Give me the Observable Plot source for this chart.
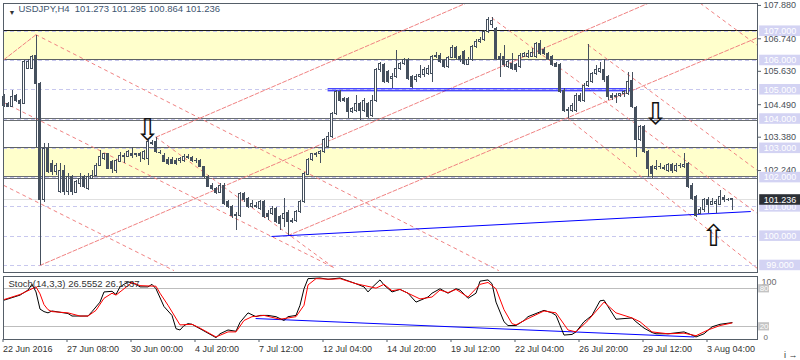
<!DOCTYPE html>
<html><head><meta charset="utf-8">
<script src="https://cdn.jsdelivr.net/npm/d3@7"></script>
<script src="https://cdn.jsdelivr.net/npm/@observablehq/plot@0.6"></script>
<style>
body{margin:0;background:#fff}
#chart{position:relative;width:800px;height:360px;overflow:hidden}
#chart svg{display:block}
</style>
</head><body><div id="chart"></div>
<script>
// ---------- DATA ----------
const titleText = "USDJPY,H4  101.273 101.295 100.864 101.236";
const stochTitle = "Stoch(14,3,3) 26.5552 26.1337";
const lastPrice = 101.236;

const opens = [104.75,104.52,104.40,104.78,104.63,104.52,105.71,105.71,106.17,105.20,
101.22,102.96,102.47,102.18,101.50,102.24,101.50,102.01,101.47,101.79,
102.01,101.62,101.96,102.07,102.41,102.64,102.79,102.53,102.24,102.53,
102.70,102.72,102.81,102.77,102.79,102.64,102.64,103.15,103.21,102.85,
102.75,102.61,102.61,102.58,102.56,102.58,102.72,102.67,102.55,102.56,
102.36,102.01,101.70,101.62,101.47,101.73,101.16,100.99,100.68,100.70,
101.44,101.27,100.99,101.03,100.93,101.16,100.76,100.76,100.93,100.65,
100.59,100.80,100.50,100.53,100.82,101.16,102.10,102.61,102.78,102.81,
102.87,103.04,103.38,104.18,104.92,104.69,104.67,104.23,104.29,104.52,
104.29,104.52,104.12,104.63,105.66,105.83,105.60,105.37,105.43,105.71,
105.88,106.00,105.43,105.32,105.43,105.49,105.54,105.54,106.11,106.17,
105.98,105.77,106.09,106.43,106.11,106.28,105.86,106.02,106.45,106.62,
106.70,106.97,107.20,107.08,106.11,106.11,105.79,105.88,105.83,105.77,
106.13,106.11,106.13,106.11,106.57,106.36,106.23,106.13,105.88,105.83,
104.97,104.27,104.29,104.29,104.80,104.63,105.14,105.26,105.54,105.60,
105.68,105.43,104.77,104.75,104.80,104.85,104.86,105.29,104.38,103.29,
103.74,102.87,102.36,102.30,102.35,102.33,102.22,102.43,102.24,102.38,
102.36,102.47,101.73,101.33,100.76,100.88,101.22,101.08,101.10,101.08,
101.31,101.25,101.273];
const highs = [104.83,104.58,104.97,104.83,104.67,106.00,106.02,106.17,106.87,105.26,
103.15,103.15,102.58,102.47,102.47,102.41,102.13,102.07,101.90,102.13,
102.07,102.13,102.24,102.47,102.92,102.83,102.83,102.58,102.61,102.87,
102.81,102.92,103.04,102.83,102.87,102.92,103.27,103.27,103.38,102.92,
102.81,102.70,102.67,102.64,102.70,102.79,102.79,102.72,102.64,102.61,
102.38,102.07,101.79,101.67,101.79,101.79,101.22,101.04,100.82,101.50,
101.50,101.33,101.22,101.16,101.22,101.22,100.88,101.01,100.99,100.70,
101.27,100.88,100.59,100.88,101.22,102.18,102.64,102.83,102.87,102.92,
103.33,103.55,104.23,104.97,104.97,104.75,104.72,104.40,104.80,104.58,
104.69,104.58,104.80,105.71,105.94,105.88,105.66,105.54,106.34,105.94,
106.06,106.06,105.49,105.52,105.83,105.77,105.83,106.17,106.28,106.23,
106.02,106.13,106.51,106.48,106.17,106.34,106.09,106.51,106.70,106.80,
107.02,107.48,107.48,107.14,106.25,106.51,106.00,106.23,105.88,106.23,
106.28,106.34,106.40,106.62,106.68,106.45,106.28,106.17,105.94,105.88,
105.03,104.40,104.52,104.86,104.86,105.20,106.53,105.60,105.83,105.94,
106.02,105.49,104.86,104.86,104.88,104.97,105.60,105.60,104.43,103.78,
103.78,102.92,102.41,102.58,102.47,102.41,102.47,102.49,102.47,102.47,
102.81,102.53,101.79,101.39,100.99,101.27,101.33,101.27,101.24,101.56,
101.39,101.30,101.295];
const lows = [104.40,104.38,104.38,104.58,104.01,104.50,105.68,105.68,103.04,99.00,
101.16,102.13,102.07,102.07,101.47,101.39,101.39,101.39,101.44,101.67,
101.62,101.56,101.93,102.04,102.38,102.58,102.27,102.13,102.13,102.50,
102.47,102.67,102.64,102.70,102.53,102.58,102.41,103.10,102.83,102.79,
102.50,102.41,102.45,102.41,102.47,102.53,102.61,102.53,102.47,102.33,
101.96,101.65,101.56,101.42,101.44,101.04,100.93,100.59,100.19,100.65,
101.16,100.93,100.93,100.93,100.88,100.59,100.53,100.70,100.42,100.19,
100.31,100.02,100.42,100.48,100.76,101.10,102.07,102.56,102.70,102.47,
102.81,102.98,103.33,104.12,104.58,104.58,104.01,104.18,104.23,103.95,
104.23,104.01,104.06,104.58,105.60,105.20,105.20,105.03,105.37,105.66,
105.83,105.32,105.03,105.26,105.37,105.43,105.49,105.26,106.06,105.88,
105.71,105.71,106.06,106.02,105.94,105.83,105.83,105.98,106.40,106.57,
106.66,106.91,107.10,106.00,105.43,105.77,105.71,105.66,105.60,105.71,
106.09,106.06,106.09,106.06,106.17,106.17,106.00,105.79,105.75,104.88,
104.23,104.01,104.23,104.23,104.58,104.58,105.09,105.20,105.49,105.54,
105.26,104.63,104.63,104.52,104.72,104.75,104.80,104.35,102.70,103.24,
102.81,102.01,101.96,102.24,102.27,102.24,102.18,102.15,102.18,102.30,
102.30,101.62,101.22,100.65,100.73,100.82,100.76,101.05,100.76,101.05,
101.16,101.18,100.864];
const closes = [104.46,104.40,104.75,104.61,104.52,105.94,105.94,106.13,105.20,101.22,
102.98,102.18,102.18,102.41,102.24,101.50,102.01,101.50,101.84,101.96,
101.67,102.01,102.07,102.41,102.70,102.79,102.30,102.30,102.58,102.75,
102.75,102.87,102.75,102.79,102.75,102.87,103.21,103.19,102.87,102.83,
102.53,102.47,102.47,102.45,102.64,102.72,102.66,102.58,102.58,102.36,
102.01,101.67,101.62,101.47,101.73,101.10,100.99,100.70,100.72,101.44,
101.22,100.99,101.10,101.01,101.16,100.65,100.65,100.93,100.48,100.42,
100.76,100.48,100.53,100.82,101.16,102.13,102.61,102.79,102.81,102.87,
103.27,103.38,104.18,104.92,104.63,104.63,104.23,104.35,104.52,104.29,
104.63,104.06,104.63,105.66,105.88,105.26,105.26,105.45,105.71,105.88,
106.00,105.37,105.09,105.45,105.52,105.68,105.71,106.11,106.17,105.94,
105.77,106.09,106.43,106.09,106.00,105.88,106.02,106.45,106.62,106.70,
106.97,107.39,107.36,106.06,106.00,105.83,105.94,105.71,105.66,106.17,
106.23,106.23,106.25,106.57,106.23,106.23,106.06,105.83,105.79,104.92,
104.29,104.31,104.46,104.80,104.63,105.14,105.26,105.54,105.66,105.71,
105.32,104.75,104.73,104.80,104.84,104.91,105.26,104.40,103.27,103.72,
102.87,102.30,102.13,102.36,102.37,102.30,102.43,102.24,102.41,102.40,
102.43,101.67,101.27,100.70,100.90,101.22,101.08,101.16,101.18,101.33,
101.24,101.22,101.236];

// stochastic %K and %D, read as [bar, value]
const stochK = [[0,62],[2,66],[4,70],[6,78],[7,87],[8,75],[9,48],[10,44],[11,42],[12,45],[16,41],[17,37],[21,37],[22,44],[24,59],[25,75],[27,76],[28,71],[29,83],[31,91],[33,87],[34,83],[36,83],[37,87],[38,80],[40,52],[42,38],[43,17],[44,15],[45,22],[46,25],[47,24],[49,17],[53,3],[54,9],[56,15],[58,13],[59,27],[61,42],[63,36],[64,38],[66,38],[68,36],[70,30],[71,36],[73,38],[74,54],[75,80],[76,96],[79,97],[81,95],[84,97],[88,88],[90,83],[91,75],[92,82],[94,94],[95,86],[97,75],[99,79],[101,73],[103,59],[106,67],[107,73],[109,80],[111,73],[113,80],[114,78],[116,65],[118,73],[119,92],[121,94],[122,88],[123,59],[125,28],[126,22],[128,22],[130,30],[131,36],[133,41],[135,46],[137,42],[138,38],[140,7],[142,8],[143,12],[145,28],[147,38],[149,61],[150,62],[151,52],[153,32],[155,33],[157,34],[158,28],[160,18],[162,11],[163,9],[166,9],[170,12],[172,7],[173,4],[175,9],[177,20],[179,24],[182,26.6]];
const stochD = [[0,63],[4,71],[7,80],[8,83],[9,72],[10,55],[11,47],[12,44],[16,42],[19,37],[21,37],[23,46],[25,65],[27,73],[28,70],[30,80],[32,90],[34,85],[38,84],[39,73],[41,54],[44,23],[47,24],[49,18],[53,4],[56,12],[58,12],[60,30],[62,36],[65,38],[69,32],[73,36],[75,54],[76,86],[78,96],[82,95],[84,96],[88,88],[93,81],[95,87],[97,77],[99,79],[102,70],[104,64],[107,67],[109,78],[111,74],[113,79],[116,67],[119,87],[121,90],[123,80],[125,47],[127,25],[128,23],[131,33],[135,45],[138,42],[141,15],[143,12],[146,30],[150,59],[153,42],[157,34],[159,28],[162,12],[166,9],[170,10],[173,6],[176,15],[179,22],[182,26.1]];

// time axis
const tickBars = [0,16,32,48,64,80,96,112,128,144,160,176];
const tickLabels = ["22 Jun 2016","27 Jun 08:00","30 Jun 00:00","4 Jul 20:00","7 Jul 12:00","12 Jul 04:00","14 Jul 20:00","19 Jul 12:00","22 Jul 04:00","26 Jul 20:00","29 Jul 12:00","3 Aug 04:00"];

// price axis (visible tick labels)
const priceTicks = [107.88,106.74,105.63,104.49,103.38,102.24];
const gridLevels = [107,106,105,104,103,102,101,100,99];
const zones = [[106,107],[102,103]];
const levelLines = [[107.02,"#1a1a1a"],[106.02,"#5d6166"],[104.01,"#6b6f74"],[103.95,"#6b6f74"],[103.03,"#5d6166"],[102.04,"#6b6f74"],[101.96,"#6b6f74"]];
const stochLevels = [80, 20];

// drawn lines: [id, bar1, price1, bar2, price2]
const ascLines = [["L1",0,106.03,8,106.88],["A",9,99.0,161,107.95],["B",38,103.38,115.4,107.95],["C",71,100.02,188.4,106.78]];
const descLines = [["D1",8,106.88,123.6,98.83],["D2",0,104.56,82.4,98.93],["D3",0,101.73,42.4,98.83],["D4",38,103.38,82.4,98.93],
  ["R1",122,107.45,188.4,100.77],["R2",146,106.53,188.4,102.24],["R3",141,104.01,188.4,98.89],["R5",174.1,107.95,188.4,106.51]];
const blueLines = [["h1",81,105.033,157,105.033],["h2",81,104.965,157,104.965],["tr",67,99.99,186.6,100.84]];
const stochBlue = [["s",63,33,172.5,4]];
const arrows = [[35.9,103.61,"down"],[162.9,104.16,"down"],[177.4,99.98,"up"]];

// ---------- DRAW ----------
const FONT = "'Liberation Sans', Arial, sans-serif";
const ink = "#45505e";
const frameC = "#555e68";
const red = "#f08282";
const X0 = -0.125, X1 = 188.375;

const candles = opens.map((o, i) => ({i, o, h: highs[i], l: lows[i], c: closes[i]}));
const seg = arr => arr.flatMap(([id, a, p, b, q]) => [{id, i: a, p}, {id, i: b, p: q}]);
const fmt3 = d3.format(".3f");

const main = Plot.plot({
  width: 800, height: 273,
  marginTop: 3, marginRight: 43, marginBottom: 1, marginLeft: 3,
  x: {domain: [X0, X1], axis: null},
  y: {domain: [98.759, 107.946], axis: null},
  color: {type: "identity"},
  style: {background: "#fff", fontFamily: FONT, overflow: "visible"},
  marks: [
    Plot.rect(zones, {x1: X0, x2: X1, y1: d => d[0], y2: d => d[1], fill: "#ffffcc"}),
    Plot.ruleY(gridLevels, {stroke: "#c8c8ee", strokeDasharray: "4,3", shapeRendering: "crispEdges"}),
    Plot.ruleY(levelLines, {y: d => d[0], stroke: d => d[1], shapeRendering: "crispEdges"}),
    Plot.ruleY([lastPrice], {stroke: "#e0e0e0", shapeRendering: "crispEdges"}),
    Plot.line(seg(ascLines), {x: "i", y: "p", z: "id", stroke: red, strokeWidth: 1, strokeDasharray: "4,2", clip: true}),
    Plot.line(seg(descLines), {x: "i", y: "p", z: "id", stroke: red, strokeWidth: 1, strokeDasharray: "3,4", clip: true}),
    Plot.line(seg(blueLines), {x: "i", y: "p", z: "id", stroke: "#0000ff", strokeWidth: 1}),
    Plot.ruleX(candles, {x: "i", y1: "l", y2: "h", stroke: ink, shapeRendering: "crispEdges"}),
    Plot.rect(candles, {x1: d => d.i - 0.25, x2: d => d.i + 0.25, y1: "o", y2: "c",
      fill: d => d.c >= d.o ? "#ffffff" : ink, stroke: ink, shapeRendering: "crispEdges"}),
    Plot.text(arrows, {x: d => d[0], y: d => d[1], text: d => d[2] === "down" ? "\u21E9" : "\u21E7",
      fontSize: 30, fill: "#111", fontFamily: "'DejaVu Sans'"}),
    Plot.frame({stroke: frameC, shapeRendering: "crispEdges"}),
    Plot.axisY({anchor: "right", ticks: priceTicks, tickFormat: fmt3, tickSize: 3, tickPadding: 3,
      fontSize: 9, fill: "#4a5058", stroke: frameC}),
    Plot.rect(gridLevels, {x1: X1 + 0.55, x2: X1 + 11, y1: d => d - 0.18, y2: d => d + 0.18, fill: "#d3d3f3"}),
    Plot.text(gridLevels, {x: X1 + 5.6, y: d => d, text: fmt3, fill: "#ffffff", fontSize: 9}),
    Plot.rect([lastPrice], {x1: X1 + 0.55, x2: X1 + 11, y1: d => d - 0.18, y2: d => d + 0.18, fill: "#2c3036"}),
    Plot.text([lastPrice], {x: X1 + 5.6, y: d => d, text: fmt3, fill: "#ffffff", fontSize: 9}),
    Plot.text(["\u25BC"], {frameAnchor: "top-left", dx: 5, dy: 7, fontSize: 7, fill: "#333"}),
    Plot.text([titleText], {frameAnchor: "top-left", dx: 15, dy: 2, lineAnchor: "top", textAnchor: "start",
      fontSize: 9.5, fill: "#3e5570"})
  ]
});

const labelMap = new Map(tickBars.map((b, k) => [b, tickLabels[k]]));
const stoch = Plot.plot({
  width: 800, height: 87,
  marginTop: 2.6, marginRight: 43, marginBottom: 21, marginLeft: 3,
  x: {domain: [X0, X1], axis: null},
  y: {domain: [0, 100], axis: null},
  style: {background: "#fff", fontFamily: FONT, overflow: "visible"},
  marks: [
    Plot.ruleY(stochLevels, {stroke: "#bdbdbd", shapeRendering: "crispEdges"}),
    Plot.line(seg(stochBlue), {x: "i", y: "p", z: "id", stroke: "#0000ff", strokeWidth: 1}),
    Plot.line(stochK, {x: d => d[0], y: d => d[1], stroke: "#000", strokeWidth: 1}),
    Plot.line(stochD, {x: d => d[0], y: d => d[1], stroke: "#ff0000", strokeWidth: 1}),
    Plot.frame({stroke: frameC, shapeRendering: "crispEdges"}),
    Plot.text([stochTitle], {frameAnchor: "top-left", dx: 5, dy: 4, lineAnchor: "top", textAnchor: "start",
      fontSize: 9.5, fill: "#333"}),
    Plot.axisX({ticks: tickBars, tickFormat: d => labelMap.get(d), tickSize: 3, tickPadding: 3,
      textAnchor: "start", dx: -1, fontSize: 9, fill: "#333", stroke: frameC}),
    Plot.text([100], {x: X1, y: d => d, dx: 4, dy: 6, text: d => String(d), textAnchor: "start", fontSize: 9, fill: "#6a6a6a"}),
    Plot.text([0], {x: X1, y: d => d, dx: 6, dy: -2, text: d => String(d), textAnchor: "start", fontSize: 8, fill: "#6a6a6a"}),
    Plot.rect(stochLevels, {x1: X1 + 0.3, x2: X1 + 3, y1: d => d - 6.5, y2: d => d + 6.5, fill: "#c4c4c4"}),
    Plot.text(stochLevels, {x: X1 + 1.65, y: d => d, text: d => String(d), fontSize: 8, fill: "#ffffff"})
  ]
});

const host = document.getElementById("chart");
host.appendChild(main);
host.appendChild(stoch);
</script>
</body></html>
